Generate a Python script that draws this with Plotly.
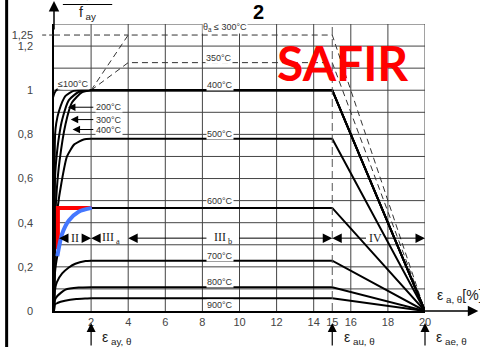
import plotly.graph_objects as go

# ---------------- data ----------------
temp_labels = ["≤100°C", "200°C", "300°C", "400°C", "500°C", "600°C", "700°C", "800°C", "900°C"]
k_y = [1.0, 1.0, 1.0, 1.0, 0.78, 0.467, 0.228, 0.108, 0.058]     # plateau sigma/f_ay
eps_plateau = [2.0, 15.0, 20.0]                                    # start, end of plateau, zero stress

# initial (elastic + elliptical) branches
c100_x = [0, 0.12, 2.0]
c100_y = [0, 1.0, 1.0]
c200_x = [0, 0.06, 0.12, 0.27, 0.62, 1.06, 2.0]
c200_y = [0, 0.80, 0.85, 0.906, 0.974, 0.997, 1.0]
c300_x = [0, 0.06, 0.14, 0.27, 0.44, 0.80, 1.33, 2.0]
c300_y = [0, 0.61, 0.70, 0.79, 0.866, 0.955, 0.992, 1.0]
c400_x = [0, 0.07, 0.15, 0.30, 0.62, 0.97, 1.50, 2.0]
c400_y = [0, 0.42, 0.55, 0.68, 0.846, 0.944, 0.99, 1.0]
c500_x = [0, 0.08, 0.20, 0.40, 0.70, 1.10, 1.60, 2.0]
c500_y = [0, 0.36, 0.47, 0.58, 0.70, 0.755, 0.777, 0.78]
c600_x = [0, 0.06, 0.18, 0.44, 0.80, 1.33, 2.0]
c600_y = [0, 0.18, 0.25, 0.35, 0.41, 0.45, 0.467]
c700_x = [0, 0.05, 0.15, 0.44, 0.80, 1.15, 1.70, 2.0]
c700_y = [0, 0.095, 0.13, 0.17, 0.197, 0.214, 0.226, 0.228]
c800_x = [0, 0.05, 0.18, 0.62, 1.33, 2.0]
c800_y = [0, 0.05, 0.068, 0.097, 0.106, 0.108]
c900_x = [0, 0.05, 0.18, 0.59, 1.20, 1.80, 2.0]
c900_y = [0, 0.03, 0.036, 0.046, 0.054, 0.057, 0.058]
curves_x = [c100_x, c200_x, c300_x, c400_x, c500_x, c600_x, c700_x, c800_x, c900_x]
curves_y = [c100_y, c200_y, c300_y, c400_y, c500_y, c600_y, c700_y, c800_y, c900_y]

# strain hardening branches (dashed)
hard300_x = [2, 4, 15, 20]
hard300_y = [1.0, 1.25, 1.25, 0]
hard350_x = [2, 4, 15, 20]
hard350_y = [1.0, 1.125, 1.125, 0]
ref125_x = [0, 4]
ref125_y = [1.25, 1.25]

# highlighted curves
red_x = [0.21, 0.21, 2.04]
red_y = [0.28, 0.467, 0.467]
blue_x = [0.18, 0.44, 0.80, 1.33, 2.04]
blue_y = [0.249, 0.35, 0.41, 0.45, 0.467]

# grid and ticks
grid_x = [2, 4, 6, 8, 10, 12, 14, 16, 18, 20]
grid_y = [0.1, 0.2, 0.3, 0.4, 0.5, 0.6, 0.7, 0.8, 0.9, 1.0, 1.1, 1.2, 1.3]
xtick_vals = [2, 4, 6, 8, 10, 12, 14, 15, 16, 18, 20]
xtick_text = ["2", "4", "6", "8", "10", "12", "14", "15", "16", "18", "20"]
ytick_vals = [0, 0.2, 0.4, 0.6, 0.8, 1.0, 1.2, 1.25]
ytick_text = ["0", "0,2", "0,4", "0,6", "0,8", "1", "1,2", "1,25"]

# regions
region_bounds = [(0.27, 2.0), (2.0, 4.0), (4.0, 15.0), (15.0, 20.0)]
region_text = ["II", "III<sub> a</sub>", "III<sub> b</sub>", "IV"]
region_center = [1.15, 3.05, 9.1, 17.35]
region_half = [0.35, 0.8, 0.8, 0.45]
region_y = 0.33

# temperature labels on the right-hand part
right_labels = ["θ<sub>a</sub> ≤ 300°C", "350°C", "400°C", "500°C", "600°C", "700°C", "800°C", "900°C"]
right_lab_x = [9.2, 8.9, 8.95, 8.95, 8.95, 8.95, 8.95, 8.95]
right_lab_y = [1.285, 1.145, 1.025, 0.80, 0.497, 0.25, 0.133, 0.026]

# ---------------- figure ----------------
L, R, T, B = 49, 55, 24, 36
W, H = 480, 347
PW, PH = W - L - R, H - T - B


def px(xp):
    return (xp - L) / PW


def py(yp):
    return (H - B - yp) / PH


fig = go.Figure()

shapes = []
for gx in grid_x:
    shapes.append(dict(type="line", xref="x", yref="y", x0=gx, x1=gx, y0=0, y1=1.3,
                       line=dict(color="#444444", width=1), layer="below"))
for gy in grid_y:
    shapes.append(dict(type="line", xref="x", yref="y", x0=0, x1=20, y0=gy, y1=gy,
                       line=dict(color="#444444", width=1), layer="below"))
# dashed vertical at 15
shapes.append(dict(type="line", xref="x", yref="y", x0=15, x1=15, y0=0, y1=1.3,
                   line=dict(color="#555555", width=1, dash="8px,4px")))
# dashed 1.25 reference outside the axis
shapes.append(dict(type="line", xref="paper", yref="paper", x0=px(37), x1=px(49),
                   y0=1.25 / 1.3, y1=1.25 / 1.3, line=dict(color="#333", width=1, dash="4px,3px")))
# left black border of the picture
shapes.append(dict(type="line", xref="paper", yref="paper", x0=px(1), x1=px(1),
                   y0=py(H), y1=py(0), line=dict(color="black", width=3)))
# fraction bar of the y label
shapes.append(dict(type="line", xref="paper", yref="paper", x0=px(58), x1=px(108),
                   y0=py(4.5), y1=py(4.5), line=dict(color="black", width=1)))

# strain hardening dashed
fig.add_trace(go.Scatter(x=ref125_x, y=ref125_y, mode="lines",
                         line=dict(color="#333", width=1, dash="6px,4px"), hoverinfo="skip"))
for hx, hy in [(hard300_x, hard300_y), (hard350_x, hard350_y)]:
    fig.add_trace(go.Scatter(x=hx, y=hy, mode="lines",
                             line=dict(color="#333", width=1, dash="6px,4px"), hoverinfo="skip"))

# plateau + descending branches
for k in k_y:
    fig.add_trace(go.Scatter(x=eps_plateau, y=[k, k, 0], mode="lines",
                             line=dict(color="black", width=2), hoverinfo="skip"))
# initial branches
for cx, cy in zip(curves_x, curves_y):
    fig.add_trace(go.Scatter(x=cx, y=cy, mode="lines",
                             line=dict(color="black", width=2, shape="spline", smoothing=0.6),
                             hoverinfo="skip"))

# highlighted curves
fig.add_trace(go.Scatter(x=red_x, y=red_y, mode="lines", line=dict(color="#ff0000", width=4),
                         hoverinfo="skip"))
fig.add_trace(go.Scatter(x=blue_x, y=blue_y, mode="lines",
                         line=dict(color="#4477ff", width=4, shape="spline", smoothing=0.8),
                         hoverinfo="skip"))

ann = []
lab_font = dict(family="Liberation Sans, Arial", size=9, color="#333")
for t, x, y in zip(right_labels, right_lab_x, right_lab_y):
    ann.append(dict(x=x, y=y, xref="x", yref="y", text=t, showarrow=False, font=lab_font,
                    xanchor="center", yanchor="middle", bgcolor="white", borderpad=0))

ann.append(dict(x=0.15, y=1.03, xref="x", yref="y", text="≤100°C", showarrow=False,
                font=lab_font, xanchor="left", yanchor="middle", bgcolor="white", borderpad=0))

# labels with leader arrows (200/300/400)
left_lab = ["200°C", "300°C", "400°C"]
left_lab_y = [0.923, 0.867, 0.822]
left_tip_x = [0.75, 0.9, 1.0]
for t, y, tx in zip(left_lab, left_lab_y, left_tip_x):
    ann.append(dict(x=tx, y=y, ax=2.2, ay=y, xref="x", yref="y", axref="x", ayref="y", text="",
                    showarrow=True, arrowhead=2, arrowsize=1.5, arrowwidth=1, arrowcolor="black"))
    ann.append(dict(x=2.2, y=y, xref="x", yref="y", text=t, showarrow=False, font=lab_font,
                    xanchor="left", yanchor="middle", bgcolor="white", borderpad=0))

# region dimension arrows
for (a, b), c, h in zip(region_bounds, region_center, region_half):
    ann.append(dict(x=a, y=region_y, ax=c - h, ay=region_y, xref="x", yref="y", axref="x",
                    ayref="y", text="", showarrow=True, arrowhead=2, arrowsize=1.9,
                    arrowwidth=1, arrowcolor="black"))
    ann.append(dict(x=b, y=region_y, ax=c + h, ay=region_y, xref="x", yref="y", axref="x",
                    ayref="y", text="", showarrow=True, arrowhead=2, arrowsize=1.9,
                    arrowwidth=1, arrowcolor="black"))
for t, c in zip(region_text, region_center):
    ann.append(dict(x=c, y=region_y, xref="x", yref="y", text=t, showarrow=False,
                    xanchor="center", yanchor="middle",
                    font=dict(family="Liberation Serif, Times New Roman", size=12, color="#222")))

# axis arrows
ann.append(dict(x=px(479), y=0, xref="paper", yref="y", ax=-60, ay=0, text="", showarrow=True,
                arrowhead=2, arrowsize=1.4, arrowwidth=1.5, arrowcolor="black"))
ann.append(dict(x=0, y=py(1), xref="x", yref="paper", ax=0, ay=30, text="", showarrow=True,
                arrowhead=2, arrowsize=1.4, arrowwidth=1.5, arrowcolor="black"))

# epsilon markers under the axis
eps_marks = [2, 15, 20]
eps_text = ["ε<sub> ay, θ</sub>", "ε<sub> au, θ</sub>", "ε<sub> ae, θ</sub>"]
eps_font = dict(family="Liberation Sans, Arial", size=14, color="#222")
for xm, t in zip(eps_marks, eps_text):
    ann.append(dict(x=xm, y=py(323), xref="x", yref="paper", ax=0, ay=30, text="",
                    showarrow=True, arrowhead=2, arrowsize=1.5, arrowwidth=1.2,
                    arrowcolor="black"))
    xp_left = L + (xm + 0.5) * PW / 20.0
    ann.append(dict(x=px(xp_left), y=py(338), xref="paper", yref="paper", text=t,
                    showarrow=False, xanchor="left", yanchor="middle", font=eps_font))
ann.append(dict(x=px(435), y=py(296), xref="paper", yref="paper", text="ε<sub> a, θ</sub>[%]",
                showarrow=False, xanchor="left", yanchor="middle", font=eps_font))

# y axis label
ann.append(dict(x=px(80), y=py(3), xref="paper", yref="paper", text="σ<sub>a, θ</sub>",
                showarrow=False, yanchor="bottom", xanchor="center",
                font=dict(family="Liberation Sans, Arial", size=14, color="#222")))
ann.append(dict(x=px(72), y=py(13), xref="paper", yref="paper", text="f<sub> ay</sub>",
                showarrow=False, xanchor="left", yanchor="middle",
                font=dict(family="Liberation Sans, Arial", size=14, color="#222")))

# title and SAFIR
ann.append(dict(x=px(256), y=py(12.5), xref="paper", yref="paper", text="<b>2</b>",
                showarrow=False, xanchor="center", yanchor="middle",
                font=dict(family="Liberation Sans, Arial", size=20, color="black")))
ann.append(dict(x=px(341), y=py(62), xref="paper", yref="paper", text="<b>SAFIR</b>",
                showarrow=False, xanchor="center", yanchor="middle",
                font=dict(family="Lato, Roboto, Liberation Sans", size=48, color="#ff0000")))

fig.update_layout(
    width=W, height=H,
    margin=dict(l=L, r=R, t=T, b=B, pad=0),
    paper_bgcolor="white", plot_bgcolor="white",
    showlegend=False,
    shapes=shapes,
    annotations=ann,
    xaxis=dict(range=[0, 20], showgrid=False, zeroline=False, showline=True,
               linecolor="black", linewidth=1.5, tickvals=xtick_vals, ticktext=xtick_text,
               ticks="", tickfont=dict(family="Liberation Sans, Arial", size=11, color="#444"),
               fixedrange=True),
    yaxis=dict(range=[0, 1.3], showgrid=False, zeroline=False, showline=True,
               linecolor="black", linewidth=1.5, tickvals=ytick_vals, ticktext=ytick_text,
               ticks="", ticklabelstandoff=17,
               tickfont=dict(family="Liberation Sans, Arial", size=11, color="#444"),
               fixedrange=True),
)

fig.write_html("out.html", config={"displayModeBar": False},
               post_script="document.body.style.margin='0';document.body.style.overflow='hidden';")
